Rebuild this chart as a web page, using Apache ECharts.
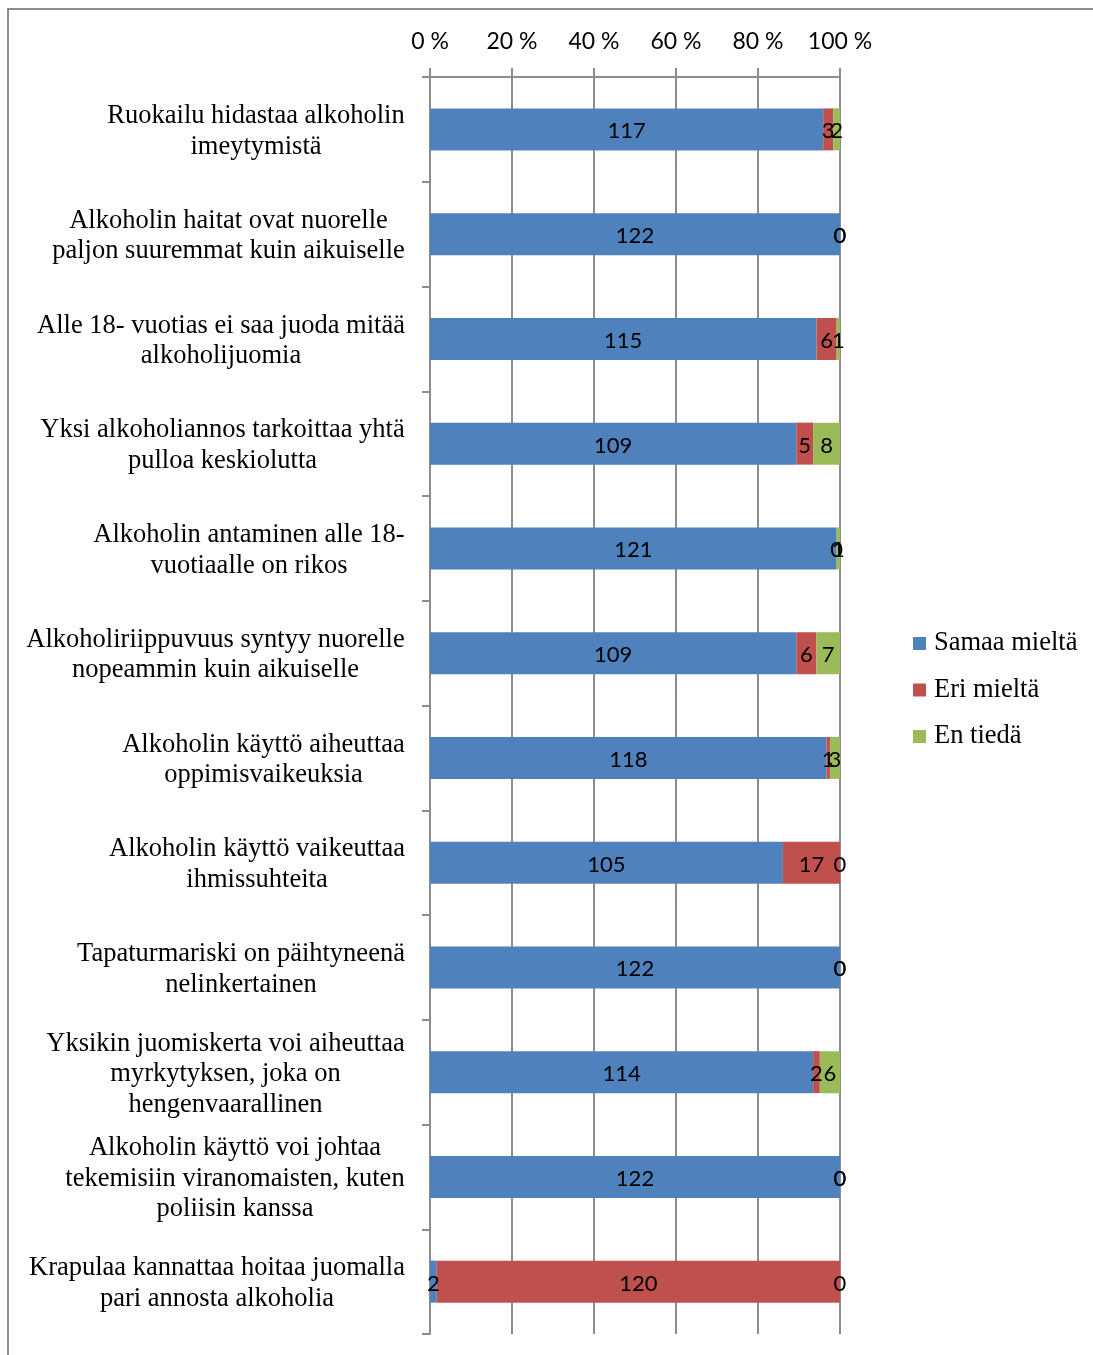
<!DOCTYPE html>
<html>
<head>
<meta charset="utf-8">
<script src="https://cdn.jsdelivr.net/npm/echarts@6/dist/echarts.min.js"></script>
<style>
  html, body { margin: 0; padding: 0; background: #fff; }
  #chart { width: 1093px; height: 1355px; }
</style>
</head>
<body>
<div id="chart"></div>
<script>
// Statements (top to bottom)
const categories = [
  'Ruokailu hidastaa alkoholin\nimeytymistä',
  'Alkoholin haitat ovat nuorelle\npaljon suuremmat kuin aikuiselle',
  'Alle 18- vuotias ei saa juoda mitää\nalkoholijuomia',
  'Yksi alkoholiannos tarkoittaa yhtä\npulloa keskiolutta',
  'Alkoholin antaminen alle 18-\nvuotiaalle on rikos',
  'Alkoholiriippuvuus syntyy nuorelle\nnopeammin kuin aikuiselle',
  'Alkoholin käyttö aiheuttaa\noppimisvaikeuksia',
  'Alkoholin käyttö vaikeuttaa\nihmissuhteita',
  'Tapaturmariski on päihtyneenä\nnelinkertainen',
  'Yksikin juomiskerta voi aiheuttaa\nmyrkytyksen, joka on\nhengenvaarallinen',
  'Alkoholin käyttö voi johtaa\ntekemisiin viranomaisten, kuten\npoliisin kanssa',
  'Krapulaa kannattaa hoitaa juomalla\npari annosta alkoholia'
];

// Answer counts per statement
const samaaMielta = [117, 122, 115, 109, 121, 109, 118, 105, 122, 114, 122, 2];
const eriMielta   = [3,   0,   6,   5,   0,   6,   1,   17,  0,   2,   0,   120];
const enTieda     = [2,   0,   1,   8,   1,   7,   3,   0,   0,   6,   0,   0];

const seriesNames = ['Samaa mieltä', 'Eri mieltä', 'En tiedä'];
const seriesColors = ['#4F81BD', '#C0504D', '#9BBB59'];
const tickLabels = ['0 %', '20 %', '40 %', '60 %', '80 %', '100 %'];

const counts = [samaaMielta, eriMielta, enTieda];
const totals = categories.map((_, i) => samaaMielta[i] + eriMielta[i] + enTieda[i]);

const serifFont = '"Liberation Serif", "Times New Roman", serif';
const sansFont = 'Lato, "Open Sans", sans-serif';
const labelSize = 26.5;

// Multi-line category labels: lines centred on each other, block right-aligned
const measureCtx = document.createElement('canvas').getContext('2d');
measureCtx.font = labelSize + 'px ' + serifFont;
const rich = {};
categories.forEach((c, i) => {
  const w = Math.max(...c.split('\n').map(s => measureCtx.measureText(s).width));
  rich['c' + i] = {
    width: Math.ceil(w) + 2,
    align: 'center',
    fontFamily: serifFont,
    fontSize: labelSize,
    lineHeight: 30.5,
    color: '#000'
  };
});

const chart = echarts.init(document.getElementById('chart'), null, { renderer: 'canvas' });

chart.setOption({
  backgroundColor: '#fff',
  animation: false,
  graphic: [{
    type: 'rect',
    shape: { x: 8, y: 9, width: 1200, height: 1400 },
    style: { fill: 'none', stroke: '#8c8c8c', lineWidth: 2 },
    silent: true
  }],
  legend: {
    orient: 'vertical',
    left: 913,
    top: 630,
    padding: 0,
    itemWidth: 13,
    itemHeight: 13,
    itemGap: 19.5,
    icon: 'rect',
    selectedMode: false,
    textStyle: { fontFamily: serifFont, fontSize: 26.5, color: '#000', padding: [0, 0, 0, 3] },
    data: seriesNames
  },
  grid: { left: 430, right: 253, top: 77, bottom: 21, containLabel: false },
  xAxis: {
    type: 'value',
    position: 'top',
    min: 0,
    max: 100,
    interval: 20,
    axisLine: { show: true, lineStyle: { color: '#8c8c8c', width: 2 } },
    axisTick: { show: true, inside: false, length: 9, lineStyle: { color: '#8c8c8c', width: 2 } },
    splitLine: { show: true, lineStyle: { color: '#8c8c8c', width: 2 } },
    axisLabel: {
      margin: 24,
      fontFamily: sansFont,
      fontSize: 23,
      color: '#000',
      formatter: v => tickLabels[Math.round(v / 20)]
    }
  },
  yAxis: {
    type: 'category',
    inverse: true,
    data: categories,
    axisLine: { show: true, lineStyle: { color: '#8c8c8c', width: 2 } },
    axisTick: { show: true, inside: false, length: 8, alignWithLabel: false, lineStyle: { color: '#8c8c8c', width: 2 } },
    splitLine: { show: false },
    axisLabel: {
      margin: 24,
      interval: 0,
      padding: [4, 0, 0, 0],
      formatter: (v, i) => v.split('\n').map(s => '{c' + i + '|' + s + '}').join('\n'),
      rich: rich
    }
  },
  series: seriesNames.map((name, s) => ({
    name: name,
    type: 'bar',
    stack: 'total',
    barWidth: 42,
    itemStyle: { color: seriesColors[s] },
    label: {
      show: true,
      position: 'inside',
      offset: [0, 2],
      fontFamily: sansFont,
      fontSize: 22,
      color: '#000',
      formatter: p => String(counts[s][p.dataIndex])
    },
    data: counts[s].map((v, i) => v / totals[i] * 100)
  }))
});
</script>
</body>
</html>
